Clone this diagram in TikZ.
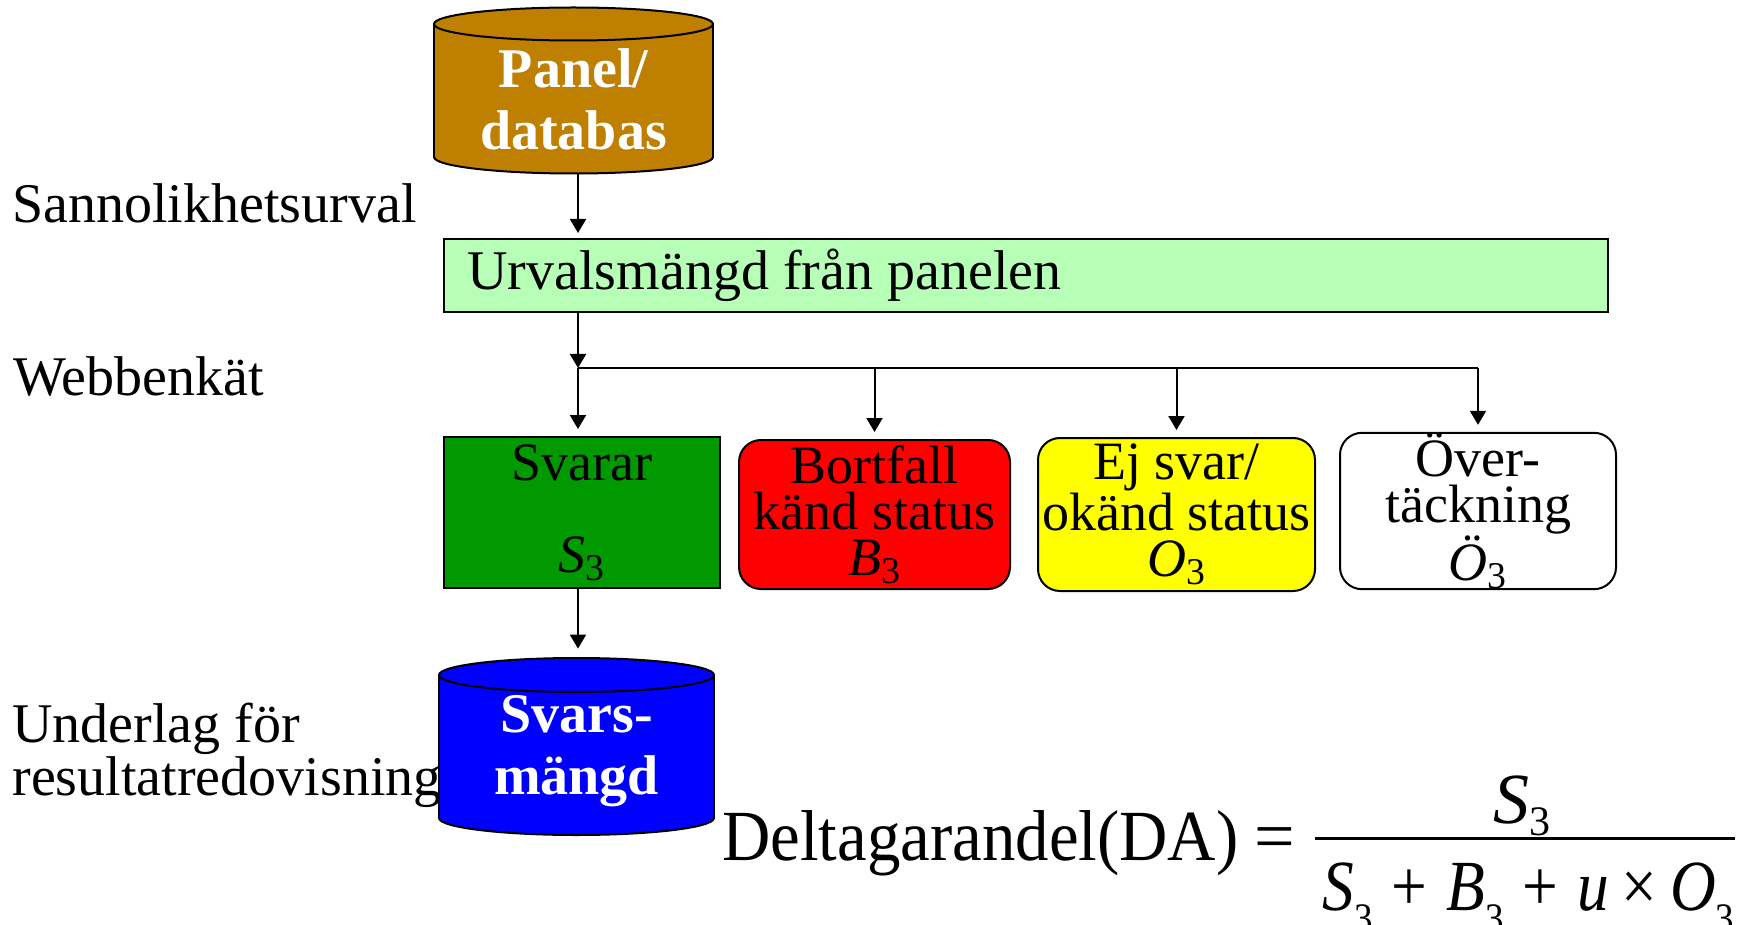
\documentclass[tikz,border=0pt]{standalone}
\usepackage{fontspec}
\setmainfont{Liberation Serif}
\usepackage{graphicx}
\usetikzlibrary{arrows.meta}
\definecolor{cylbrown}{RGB}{191,127,0}
\definecolor{lightgr}{RGB}{183,255,183}
\definecolor{darkgr}{RGB}{0,153,0}
\definecolor{boxred}{RGB}{255,0,0}
\definecolor{boxyel}{RGB}{255,255,0}
\definecolor{cylblue}{RGB}{0,0,255}
\newcommand\nsub[1]{\raisebox{-6pt}{\fontsize{21}{21}\selectfont #1}}
\newcommand\dsub[1]{\raisebox{-11pt}{\fontsize{21}{21}\selectfont #1}}
\begin{document}
\begin{tikzpicture}[x=0.5pt,y=-0.5pt,
  lbl/.style={inner sep=0pt, font=\fontsize{28}{20.5}\selectfont, align=left},
  cyltxt/.style={inner sep=0pt, text=white, font=\bfseries\fontsize{28}{31}\selectfont, align=center},
  stagebox/.style={draw=black, line width=1pt, inner sep=0pt, align=center,
    font=\fontsize{27}{23}\selectfont},
  arr/.style={-{Triangle[width=8pt,length=7pt]}, line width=1pt},
  plain/.style={line width=1pt},
  frm/.style={inner sep=0pt, font=\fontsize{36}{36}\selectfont}
]
\useasboundingbox (0,0) rectangle (1746,925);

% --- Panel/databas cylinder ---
\filldraw[fill=cylbrown, line width=1pt] (573.5,157) ellipse [x radius=69.75pt, y radius=8.25pt];
\fill[cylbrown] (434,24) rectangle (713,157);
\draw[plain] (434,24) -- (434,157) (713,24) -- (713,157);
\filldraw[fill=cylbrown, line width=1pt] (573.5,24) ellipse [x radius=69.75pt, y radius=8.25pt];
\node[inner sep=0pt, minimum width=139.5pt, minimum height=83pt] (panel) at (573.5,90.5) {};
\node[cyltxt] (paneltxt) at (573.5,99.5) {Panel/\\databas};

% --- Svarsmängd cylinder ---
\filldraw[fill=cylblue, line width=1pt] (576.5,818) ellipse [x radius=68.75pt, y radius=8.5pt];
\fill[cylblue] (439,675) rectangle (714,818);
\draw[plain] (439,675) -- (439,818) (714,675) -- (714,818);
\filldraw[fill=cylblue, line width=1pt] (576.5,675) ellipse [x radius=68.75pt, y radius=8.5pt];
\node[inner sep=0pt, minimum width=137.5pt, minimum height=88.5pt] (svars) at (576.5,746.5) {};
\node[cyltxt] (svarstxt) at (576.5,751) {Svars-\\mängd};

% --- left labels ---
\node[lbl, anchor=base west] (lsann) at (12,223) {Sannolikhetsurval};
\node[lbl, anchor=base west] (lwebb) at (13,395) {Webbenkät};
\node[lbl, anchor=north west] (lund) at (12,703) {Underlag för\\resultatredovisning};

% --- Urvalsmängd box ---
\node[draw=black, line width=1pt, fill=lightgr, inner sep=0pt,
      minimum width=582pt, minimum height=36.5pt] (urval) at (1026,275.5) {};
\node[lbl, anchor=base west] (urvaltxt) at (467,290) {Urvalsmängd från panelen};

% --- four outcome boxes ---
\node[stagebox, fill=darkgr, minimum width=138pt, minimum height=75.5pt] (svarar) at (582,512.5)
  {Svarar\\\mbox{}\\\textit{S}\textsubscript{3}};
\node[stagebox, fill=boxred, rounded corners=11pt, minimum width=135.5pt, minimum height=74.5pt] (bortfall) at (874.5,514.5)
  {Bortfall\\känd status\\\textit{B}\textsubscript{3}};
\node[stagebox, fill=boxyel, rounded corners=11pt, minimum width=138.5pt, minimum height=76.5pt] (ejsvar) at (1176.5,514.5)
  {Ej svar/\\okänd status\\\textit{O}\textsubscript{3}};
\node[stagebox, fill=white, rounded corners=11pt, minimum width=138pt, minimum height=76pt] (over) at (1478,511)
  {Över-\\täckning\\\textit{Ö}\textsubscript{3}};

% --- connectors ---
\coordinate (colx) at (578,0);
\coordinate (split) at (578,368);
\coordinate (splitend) at (1478,368);
\draw[arr, shorten >=2.5pt] (panel.south -| colx) -- (urval.north -| colx);
\draw[arr] (urval.south -| colx) -- (split);
\draw[plain] (split) -- (splitend);
\draw[arr, shorten >=3.5pt] (split) -- (svarar.north -| split);
\draw[arr, shorten >=3.5pt] (split -| bortfall.north) -- (bortfall.north);
\draw[arr, shorten >=3.5pt] (split -| ejsvar.north) -- (ejsvar.north);
\draw[arr, shorten >=3.5pt] (splitend) -- (over.north -| splitend);
\draw[arr, shorten >=4.5pt] (svarar.south -| colx) -- (svars.north -| colx);

% --- formula ---
\node[frm, anchor=base west] (dlt) at (722,860) {\resizebox{258pt}{\height}{Deltagarandel(DA)}};
\node[frm, anchor=base] (eqs) at (1275,860) {=};
\coordinate (barl) at (1315,838);
\coordinate (barr) at (1735,838);
\draw[line width=1.5pt] (barl) -- (barr);
\node[frm, anchor=base] (num) at (1522,823) {\textit{S}\nsub{3}};
\node[frm, anchor=base west] (den) at (1322,910)
  {\resizebox{206pt}{\height}{\textit{S}\dsub{3}\hspace{0.3em}+\hspace{0.3em}\textit{B}\dsub{3}\hspace{0.3em}+\hspace{0.3em}\textit{u}\hspace{0.2em}×\hspace{0.2em}\textit{O}\dsub{3}}};
\end{tikzpicture}
\end{document}
